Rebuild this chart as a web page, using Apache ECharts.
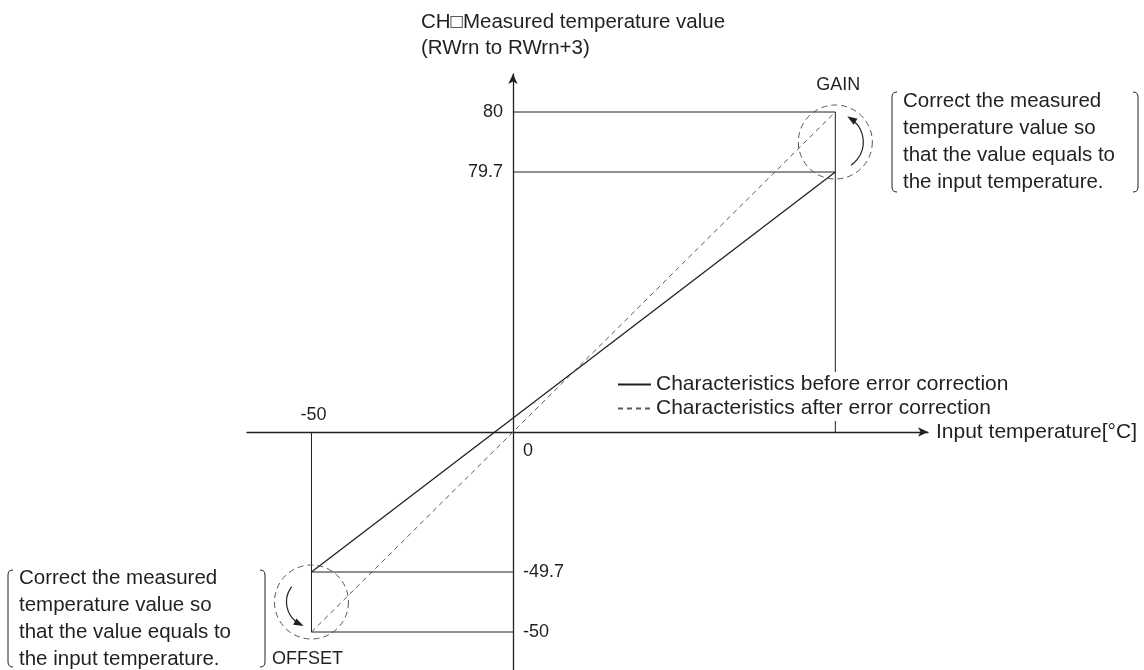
<!DOCTYPE html>
<html>
<head>
<meta charset="utf-8">
<script src="https://cdn.jsdelivr.net/npm/echarts@6/dist/echarts.min.js"></script>
<style>
html,body{margin:0;padding:0;background:#fff;}
#chart{width:1144px;height:670px;}
</style>
</head>
<body>
<div id="chart"></div>
<script>
// ---------------- data ----------------
const inputTemps = [-50, 80];               // input temperature (°C): OFFSET, GAIN
const beforeCorrection = [-49.7, 79.7];     // measured value before error correction
const afterCorrection = [-50, 80];          // measured value after error correction
const pointNames = ['OFFSET', 'GAIN'];
const seriesNames = ['Characteristics before error correction', 'Characteristics after error correction'];
const xAxisName = 'Input temperature[°C]';
const yAxisNameLines = ['CH\u25A1Measured temperature value', '(RWrn to RWrn+3)'];
const noteLines = ['Correct the measured', 'temperature value so', 'that the value equals to', 'the input temperature.'];

// ---------------- schematic y transform ----------------
// The diagram is schematic: the 0.3 correction gap is drawn 50x larger.
const ERROR_SCALE = 50;
function drawY(v) {
  const ideal = Math.round(v / 10) * 10;
  return ideal + (v - ideal) * ERROR_SCALE;
}

const INK = '#231f20';
const DASH = '#58595b';
const FONT = '"Liberation Sans", Arial, Helvetica, sans-serif';
const FS = 21;      // text
const FS_L = 18;    // value labels

// guide segments built from data
const guideData = [];
inputTemps.forEach((x, i) => {
  const yb = drawY(beforeCorrection[i]);
  const ya = drawY(afterCorrection[i]);
  guideData.push({ coords: [[0, yb], [x, yb]] });
  guideData.push({ coords: [[0, ya], [x, ya], [x, 0]] });
});

// labels built from data
const labelData = [];
inputTemps.forEach((x, i) => {
  const side = x > 0 ? 'left' : 'right';
  [afterCorrection[i], beforeCorrection[i]].forEach(v => {
    labelData.push({ value: [0, drawY(v)], text: String(v), label: { position: side, distance: 10 } });
  });
  labelData.push({
    value: [x, drawY(afterCorrection[i])], text: pointNames[i],
    label: { position: x > 0 ? 'top' : 'bottom', distance: 18, offset: x > 0 ? [3, 0] : [-4, 0] }
  });
});
// x-axis value labels
labelData.push({ value: [inputTemps[0], 0], text: String(inputTemps[0]), label: { position: 'top', distance: 8, offset: [2, 0] } });
labelData.push({ value: [0, 0], text: '0', label: { position: [10, 10], align: 'left', verticalAlign: 'top' } });

// circle + curved arrow styles (per point: OFFSET, GAIN)
const arrowStyle = [
  { r: 25, start: 117, end: 218 },
  { r: 28, start: -57, end: 56 }
];

const chart = echarts.init(document.getElementById('chart'), null, { renderer: 'canvas' });

function bracket(x, top, bottom, dir) {
  const r = 5;
  const st = { stroke: INK, lineWidth: 1, fill: null };
  return [
    { type: 'line', shape: { x1: x, y1: top + r, x2: x, y2: bottom - r }, style: st },
    { type: 'bezierCurve', shape: { x1: x, y1: top + r, x2: x + dir * r, y2: top, cpx1: x, cpy1: top }, style: st },
    { type: 'bezierCurve', shape: { x1: x, y1: bottom - r, x2: x + dir * r, y2: bottom, cpx1: x, cpy1: bottom }, style: st }
  ];
}

const noteStyle = (x, y) => ({
  type: 'text',
  style: {
    x: x, y: y, text: noteLines.join('\n'), fill: INK,
    font: '20.5px ' + FONT, lineHeight: 27,
    verticalAlign: 'middle', align: 'left'
  }
});

const option = {
  animation: false,
  backgroundColor: '#fff',
  title: {
    text: yAxisNameLines.join('\n'),
    left: 421, top: 9, padding: 0,
    textStyle: { fontSize: 20.5, fontWeight: 'normal', color: INK, fontFamily: FONT, lineHeight: 26 }
  },
  legend: {
    orient: 'vertical',
    left: 617, top: 372,
    padding: [2, 4, 2, 0],
    itemWidth: 33, itemHeight: 14, itemGap: 3,
    backgroundColor: '#fff',
    selectedMode: false,
    data: seriesNames,
    itemStyle: { opacity: 0 },
    textStyle: { fontSize: FS, color: INK, fontFamily: FONT, lineHeight: 21 }
  },
  grid: { left: 247, right: 216, top: 74, bottom: 0, containLabel: false },
  xAxis: {
    type: 'value', min: -66, max: 103,
    axisLine: { onZero: true, symbol: ['none', 'arrow'], symbolSize: [7, 10], lineStyle: { color: INK, width: 1.3 } },
    axisTick: { show: false }, axisLabel: { show: false }, splitLine: { show: false },
    name: xAxisName, nameLocation: 'end', nameGap: 8,
    nameTextStyle: { fontSize: FS, color: INK, fontFamily: FONT }
  },
  yAxis: {
    type: 'value', min: -59.5, max: 89.5,
    axisLine: { onZero: true, symbol: ['none', 'arrow'], symbolSize: [7, 10], lineStyle: { color: INK, width: 1.3 } },
    axisTick: { show: false }, axisLabel: { show: false }, splitLine: { show: false }
  },
  series: [
    {
      type: 'lines', coordinateSystem: 'cartesian2d', polyline: true, silent: true, z: 1,
      lineStyle: { color: INK, width: 1, opacity: 1 },
      data: guideData
    },
    {
      name: seriesNames[0], type: 'line', symbol: 'none', silent: true, z: 3,
      itemStyle: { color: INK },
      lineStyle: { color: INK, width: 1.3 },
      data: inputTemps.map((x, i) => [x, drawY(beforeCorrection[i])])
    },
    {
      name: seriesNames[1], type: 'line', symbol: 'none', silent: true, z: 3,
      itemStyle: { color: DASH },
      lineStyle: { color: DASH, width: 1, type: [5, 4] },
      data: inputTemps.map((x, i) => [x, drawY(afterCorrection[i])])
    },
    {
      type: 'custom', silent: true, z: 4,
      data: inputTemps.map((x, i) => [x, drawY(beforeCorrection[i]), drawY(afterCorrection[i])]),
      renderItem: function (params, api) {
        const i = params.dataIndex;
        const p1 = api.coord([api.value(0), api.value(1)]);
        const p2 = api.coord([api.value(0), api.value(2)]);
        const cx = p1[0], cy = (p1[1] + p2[1]) / 2;
        const a = arrowStyle[i];
        const t = a.start * Math.PI / 180;
        const px = cx + a.r * Math.cos(t), py = cy + a.r * Math.sin(t);
        const dx = Math.sin(t), dy = -Math.cos(t);   // direction of travel at arrow end
        const nx = -dy, ny = dx;
        const tip = [px + dx * 4, py + dy * 4];
        const b1 = [px - dx * 6 + nx * 3.5, py - dy * 6 + ny * 3.5];
        const b2 = [px - dx * 6 - nx * 3.5, py - dy * 6 - ny * 3.5];
        return {
          type: 'group',
          children: [
            { type: 'circle', shape: { cx: cx, cy: cy, r: 37 }, style: { fill: null, stroke: DASH, lineWidth: 1, lineDash: [6, 4] } },
            { type: 'arc', shape: { cx: cx, cy: cy, r: a.r, startAngle: (a.start + 6) * Math.PI / 180, endAngle: a.end * Math.PI / 180, clockwise: true }, style: { fill: null, stroke: INK, lineWidth: 1.2 } },
            { type: 'polygon', shape: { points: [tip, b1, b2] }, style: { fill: INK } }
          ]
        };
      }
    },
    {
      type: 'scatter', silent: true, z: 5, symbolSize: 0,
      itemStyle: { opacity: 1 },
      data: labelData.map(d => ({ value: d.value, name: d.text, label: d.label })),
      label: {
        show: true, formatter: p => p.name, opacity: 1,
        fontSize: FS_L, color: INK, fontFamily: FONT
      }
    }
  ],
  graphic: [
    ...bracket(892, 92, 192, 1),
    ...bracket(1138, 92, 192, -1),
    noteStyle(903, 142),
    ...bracket(8, 570, 667, 1),
    ...bracket(265, 570, 667, -1),
    noteStyle(19, 619)
  ]
};

chart.setOption(option);
</script>
</body>
</html>
